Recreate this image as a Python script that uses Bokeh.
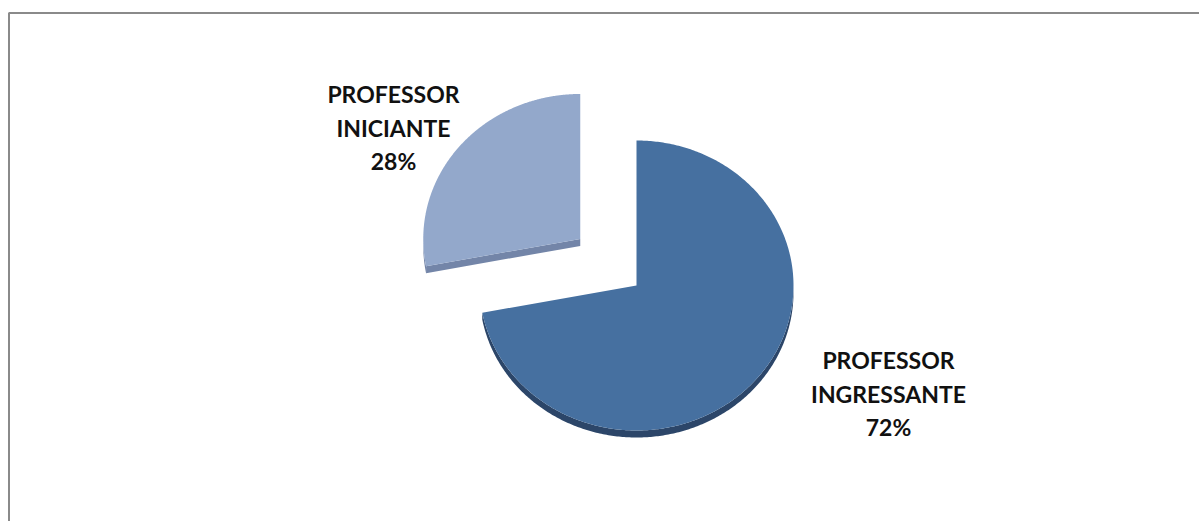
import numpy as np
from bokeh.plotting import figure
from bokeh.models import Range1d, ColumnDataSource
from bokeh.core.properties import value
from bokeh.embed import file_html
from bokeh.resources import INLINE

# ---- data ----
categories = ["PROFESSOR INGRESSANTE", "PROFESSOR INICIANTE"]
percent = [72, 28]
exploded = [False, True]

# ---- styling / layout constants ----
top_colors = ["#4670A0", "#93A8CB"]
side_colors = ["#2C4669", "#7385A8"]
CX, CY = 636.0, 285.0      # pie centre (pixels, y downward)
RX, RY = 157.0, 145.0      # ellipse radii
DEPTH = 7.0
EXPLODE = 73.0
label_xy = [(888.0, 393.0), (393.0, 127.0)]
LINE_GAP = 33.5

W, H = 1199, 521
p = figure(width=W, height=H, x_range=Range1d(0, W), y_range=Range1d(H, 0),
           output_backend="svg", toolbar_location=None,
           x_axis_type=None, y_axis_type=None, min_border=0,
           outline_line_color=None, background_fill_color="white",
           border_fill_color="white")

# frame (only top/left visible in the crop)
p.quad(left=[8.5], right=[W + 20], top=[12.5], bottom=[H + 20],
       fill_color=None, line_color="#8A8A8A", line_width=2)


def pt(theta, cx, cy, dy=0.0):
    return cx + RX * np.cos(theta), cy - RY * np.sin(theta) + dy


total = float(sum(percent))
start = np.pi / 2
slices = []
for i, v in enumerate(percent):
    sweep = 2 * np.pi * v / total
    a0, a1 = start - sweep, start  # clockwise from 12 o'clock
    start = a0
    mid = (a0 + a1) / 2
    ox, oy = (EXPLODE * np.cos(mid), -EXPLODE * np.sin(mid)) if exploded[i] else (0.0, 0.0)
    slices.append((i, a0, a1, cx_ := CX + ox, CY + oy))

# draw exploded (back) slice first, then main
for i, a0, a1, cx, cy in sorted(slices, key=lambda s: not exploded[s[0]]):
    # side wall along the front arc
    ts = np.linspace(a0, a1, 400)
    ts_n = np.arctan2(np.sin(ts), np.cos(ts))
    front = ts[(ts_n <= 0.0)]
    if len(front) > 1:
        xt, yt = pt(front, cx, cy)
        xb, yb = pt(front[::-1], cx, cy, DEPTH)
        p.patch(np.concatenate([xt, xb]), np.concatenate([yt, yb]),
                fill_color=side_colors[i], line_color=None)
    # side wall on radial edges facing the viewer
    for edge, sign in ((a0, 1), (a1, -1)):
        ny = sign * np.cos(edge)
        if ny > 0.05:
            ex, ey = pt(edge, cx, cy)
            p.patch([cx, ex, ex, cx], [cy, ey, ey + DEPTH, cy + DEPTH],
                    fill_color=side_colors[i], line_color=None)
    # top face
    ts = np.linspace(a0, a1, 400)
    xs, ys = pt(ts, cx, cy)
    p.patch(np.concatenate([[cx], xs]), np.concatenate([[cy], ys]),
            fill_color=top_colors[i], line_color=None)

# labels
lx, ly, lt = [], [], []
for i, name in enumerate(categories):
    words = name.split(" ")
    lines = words + [f"{percent[i]}%"]
    x0, y0 = label_xy[i]
    n = len(lines)
    for k, t in enumerate(lines):
        lx.append(x0)
        ly.append(y0 + (k - (n - 1) / 2) * LINE_GAP)
        lt.append(t)
src = ColumnDataSource(dict(x=lx, y=ly, t=lt))
p.text(x="x", y="y", text="t", source=src, text_font=value("Lato"),
       text_font_style="bold", text_font_size="23px", text_align="center",
       text_baseline="middle", text_color="#111111")

open("out.html", "w").write(file_html(p, INLINE))
